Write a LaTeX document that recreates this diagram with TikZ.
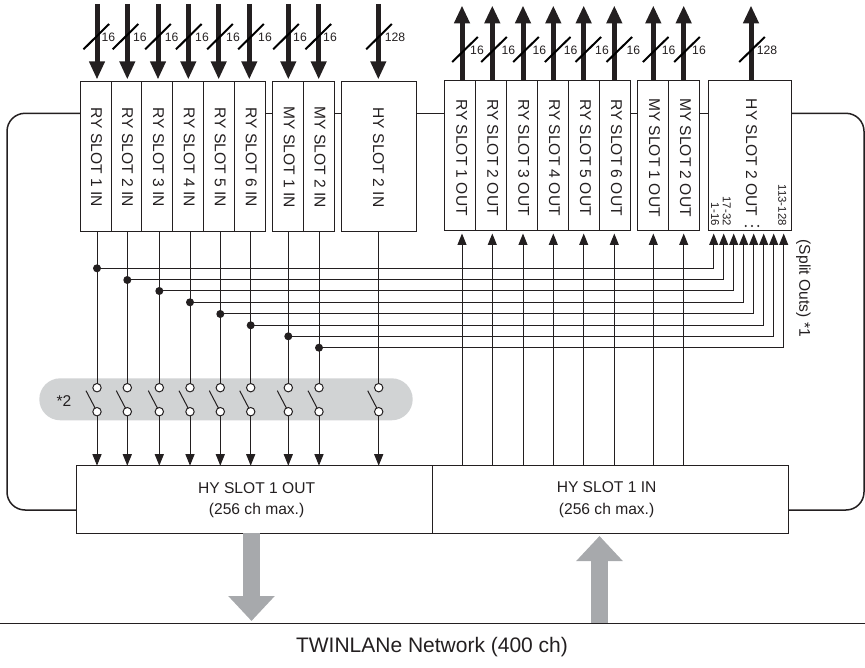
\documentclass[tikz,border=0pt]{standalone}
\usepackage{fontspec}
\setmainfont{Liberation Sans}
\usetikzlibrary{arrows.meta}
\definecolor{ink}{HTML}{231F20}
\definecolor{pillgray}{HTML}{D1D3D4}
\definecolor{bigarrowgray}{HTML}{A7A9AC}
\tikzset{
  x=1pt,y=-1pt,
  slotbox/.style={draw=ink,fill=white,line width=1pt,inner sep=0pt,outer sep=0pt,minimum height=150pt,minimum width=31pt},
  slottext/.style={rotate=-90,inner sep=0pt,text=ink,font=\fontsize{15.6}{18}\selectfont},
  smalltext/.style={rotate=-90,inner sep=0pt,text=ink,font=\fontsize{11.4}{13}\selectfont},
  numtext/.style={inner sep=0pt,text=ink,font=\fontsize{12.2}{14}\selectfont},
  plaintext/.style={inner sep=0pt,text=ink,align=center,font=\fontsize{15.6}{21.4}\selectfont},
  fatin/.style={draw=ink,line width=5pt,-{Triangle[length=18pt,width=14.7pt]}},
  fatout/.style={draw=ink,line width=5pt,-{Triangle[length=18pt,width=15pt]}},
  slashmark/.style={draw=black,line width=2pt},
  wire/.style={draw=ink,line width=1pt},
  wirearrow/.style={wire,-{Triangle[length=11.5pt,width=9pt]}},
  loopline/.style={draw=ink,line width=1.5pt,rounded corners=18pt},
  swcircle/.style={circle,draw=ink,fill=white,line width=1pt,inner sep=0pt,outer sep=0pt,minimum size=8.4pt},
  tapdot/.style={circle,fill=ink,inner sep=0pt,outer sep=0pt,minimum size=8pt},
  tinydot/.style={circle,fill=ink,inner sep=0pt,minimum size=2.2pt},
  blade/.style={draw=ink,line width=1pt},
  grayarrow/.style={draw=bigarrowgray,line width=17.5pt,-{Triangle[length=25pt,width=45pt]}}
}
\begin{document}
\begin{tikzpicture}
\useasboundingbox (0,0) rectangle (865,668);
\coordinate (loopy) at (0,113.3);
\coordinate (loopb) at (0,510);
% grey switch band
\node[fill=pillgray,rounded corners=21pt,minimum width=373.4pt,minimum height=42pt,inner sep=0pt] (band) at (226,399.3) {};
\node[plaintext] (startwo) at (64,400.7) {*2};
% input slots
\foreach \n/\cx/\t in {ryi1/95.5/RY SLOT 1 IN,ryi2/126.5/RY SLOT 2 IN,ryi3/157.4/RY SLOT 3 IN,ryi4/188.2/RY SLOT 4 IN,ryi5/219.2/RY SLOT 5 IN,ryi6/250.2/RY SLOT 6 IN,myi1/288.2/MY SLOT 1 IN,myi2/319/MY SLOT 2 IN}{
  \node[slotbox] (\n) at (\cx,156.3) {};
  \node[slottext] (\n t) at (\cx+1,157.5) {\t};
}
\node[slotbox,minimum width=75.7pt] (hyi2) at (378.85,156.3) {};
\node[slottext] (hyi2t) at (378.6,157.5) {HY SLOT 2 IN};
% output slots
\foreach \n/\cx/\t in {ryo1/459.8/RY SLOT 1 OUT,ryo2/490.8/RY SLOT 2 OUT,ryo3/521.8/RY SLOT 3 OUT,ryo4/552.6/RY SLOT 4 OUT,ryo5/583.5/RY SLOT 5 OUT,ryo6/614.5/RY SLOT 6 OUT,myo1/652.6/MY SLOT 1 OUT,myo2/683.5/MY SLOT 2 OUT}{
  \node[slotbox] (\n) at (\cx,156) {};
  \node[slottext] (\n t) at (\cx+2,157.5) {\t};
}
\node[slotbox,minimum width=83.4pt] (hyo2) at (750,156) {};
\node[slottext] (hyo2t) at (751.5,157.5) {HY SLOT 2 OUT};
\node[smalltext,anchor=east] (s1) at (715,226) {1-16};
\node[smalltext,anchor=east] (s2) at (726.7,226) {17-32};
\node[smalltext,anchor=east] (s3) at (782.3,226) {113-128};
\node[tinydot] (d1) at (745.7,226) {};
\node[tinydot] (d2) at (752,226) {};
\node[tinydot] (d3) at (758.3,226) {};
\node[slottext] (splitouts) at (803.3,288.3) {(Split Outs) *1};
% bottom boxes
\node[slotbox,minimum width=355.3pt,minimum height=67.6pt] (hyo1) at (254.35,499.5) {};
\node[slotbox,minimum width=356pt,minimum height=67.6pt] (hyi1) at (610,499.5) {};
\node[plaintext] (hyo1t) at (256.6,500) {HY SLOT 1 OUT\\(256 ch max.)};
\node[plaintext] (hyi1t) at (606.6,499.5) {HY SLOT 1 IN\\(256 ch max.)};
% loop
\draw[loopline] (ryi1.west |- loopy) -- (7,113.3) -- (7,510) -- (hyo1.west |- loopb);
\draw[loopline] (hyo2.east |- loopy) -- (864,113.3) -- (864,510) -- (hyi1.east |- loopb);
\draw[loopline] (ryi6.east |- loopy) -- (myi1.west |- loopy);
\draw[loopline] (myi2.east |- loopy) -- (hyi2.west |- loopy);
\draw[loopline] (hyi2.east |- loopy) -- (ryo1.west |- loopy);
\draw[loopline] (ryo6.east |- loopy) -- (myo1.west |- loopy);
\draw[loopline] (myo2.east |- loopy) -- (hyo2.west |- loopy);
% fat input arrows
\foreach \n/\ax/\sx/\lx/\l in {ryi1/97/96.3/108.3/16,ryi2/127.3/125.5/140/16,ryi3/158/158/171.7/16,ryi4/188.3/188.8/202/16,ryi5/218.7/220/233/16,ryi6/249.3/251/265/16,myi1/288.3/286/300/16,myi2/318.7/318.3/330/16,hyi2/378.3/379/395/128}{
  \coordinate (\n top) at (\ax,4);
  \draw[fatin] (\n top) -- (\ax,79.5);
  \draw[slashmark] (\sx-12.8,49.3) -- (\sx+12.8,24);
  \node[numtext] (\n num) at (\lx,37.7) {\l};
}
% fat output arrows
\foreach \n/\ax/\sx/\lx/\l in {ryo1/462/465/477/16,ryo2/492.3/494/508.3/16,ryo3/523/526/539.3/16,ryo4/553.3/557.7/570.7/16,ryo5/583.7/588.3/602/16,ryo6/614.3/619.3/633.3/16,myo1/653.3/655.7/668.7/16,myo2/683.7/687/699/16,hyo2/751/752/767/128}{
  \coordinate (\n tip) at (\ax,5.5);
  \draw[fatout] (\n.north -| \n tip) -- (\n tip);
  \draw[slashmark] (\sx-12.8,62) -- (\sx+12.8,37);
  \node[numtext] (\n num) at (\lx,50) {\l};
}
% switches
\foreach \i/\src/\x in {1/ryi1/97,2/ryi2/127.3,3/ryi3/159.3,4/ryi4/190,5/ryi5/220.3,6/ryi6/250.7,7/myi1/288.3,8/myi2/319,9/hyi2/378.7}{
  \node[swcircle] (tsw\i) at (\x,387.7) {};
  \node[swcircle] (bsw\i) at (\x,411.7) {};
  \draw[wire] (\src.south -| tsw\i) -- (tsw\i);
  \draw[blade] (\x-11,390.7) -- (bsw\i);
  \draw[wirearrow] (bsw\i) -- (bsw\i |- hyo1.north);
}
% split outs
\foreach \i/\y/\sx in {1/268.3/713.7,2/280/723.7,3/291/733.7,4/302.3/743.7,5/314/753.7,6/325.3/763.7,7/336.3/773.7,8/347.7/783.7}{
  \node[tapdot] (dot\i) at (tsw\i |- 0,\y) {};
  \coordinate (spl\i) at (\sx,233.5);
  \draw[wirearrow] (dot\i.center) -| (spl\i);
}
% output feeds
\foreach \n/\x in {ryo1/462,ryo2/492.3,ryo3/523,ryo4/553.3,ryo5/583.7,ryo6/614.3,myo1/653.3,myo2/683.7}{
  \coordinate (\n feed) at (\x,233.5);
  \draw[wirearrow] (hyi1.north -| \n feed) -- (\n feed);
}
% network
\coordinate (netl) at (0,623);
\coordinate (netr) at (865,623);
\draw[draw=ink,line width=1pt] (netl) -- (netr);
\node[inner sep=0pt,text=ink,font=\fontsize{21}{25}\selectfont] (net) at (432,646.7) {TWINLANe Network (400 ch)};
\coordinate (gdown) at (251.5,621);
\coordinate (gup) at (599.5,536);
\draw[grayarrow] (hyo1.south -| gdown) -- (gdown);
\draw[grayarrow] (netl -| gup) -- (gup);
\end{tikzpicture}
\end{document}
